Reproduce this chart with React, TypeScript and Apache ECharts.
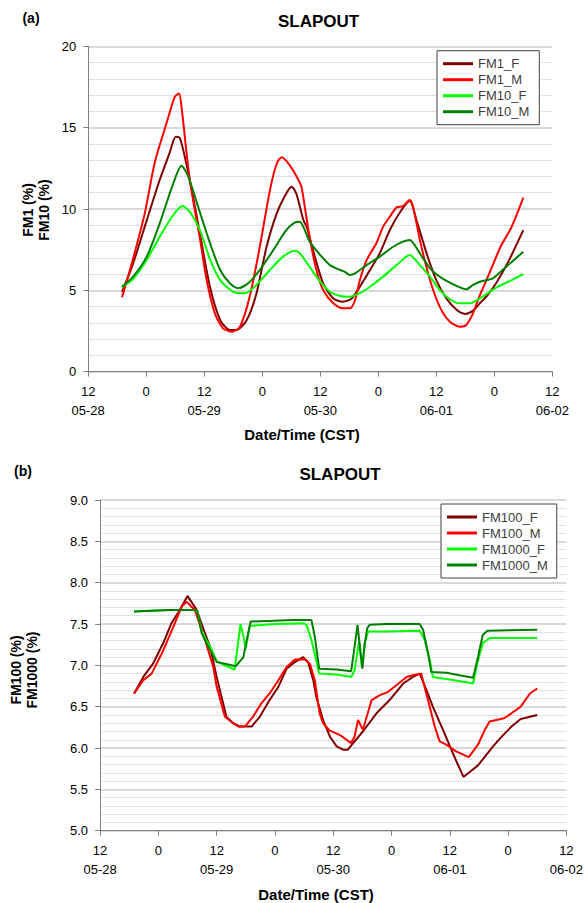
import React, { useEffect, useRef } from "react";
import * as echarts from "echarts";

// x values are hours after 05-28 12:00 (CST)
const xTickLabels = ["12\n05-28", "0", "12\n05-29", "0", "12\n05-30", "0", "12\n06-01", "0", "12\n06-02"];

const fm1F: number[][] = [
  [7, 4.9], [9.3, 6.66], [12.1, 9.3], [14.8, 11.8], [16.9, 13.5], [18.1, 14.45], [19.0, 14.35], [21, 11.8],
  [23.1, 8.5], [25.2, 5.2], [27.3, 3.17], [29.3, 2.56], [30.7, 2.56], [32.8, 3.17], [34.8, 4.8], [36.9, 7.68],
  [39.0, 9.73], [41.0, 10.97], [42.1, 11.37], [43.1, 10.9], [44.5, 9.32], [45.2, 8.9], [46.5, 7.48], [48.6, 5.43],
  [50.7, 4.5], [52.7, 4.3], [54.5, 4.5], [56.2, 5.22], [58.3, 6.25], [60.3, 7.27], [62.4, 8.71], [64.5, 9.8],
  [66.5, 10.5], [67.9, 9.32], [70.0, 7.27], [72.0, 5.63], [74.1, 4.5], [76.2, 3.8], [78.0, 3.55], [79.6, 3.75],
  [81.0, 4.2], [82.6, 4.7], [84.5, 5.5], [86.8, 6.7], [90, 8.7],
];
const fm1M: number[][] = [
  [7, 4.57], [9.4, 7.07], [11.7, 9.73], [13.8, 12.9], [16.2, 15.27], [17.9, 16.9], [18.8, 17.1], [19.3, 16.3],
  [21, 11.8], [23.1, 8.2], [24.5, 5.63], [26.2, 3.58], [27.9, 2.66], [29.7, 2.45], [31.4, 2.76], [33.4, 4.6],
  [35.5, 7.68], [37.6, 11.17], [39.0, 12.8], [40.0, 13.18], [41.4, 12.8], [43.1, 12.0], [44.1, 11.37], [44.8, 10.14],
  [45.9, 8.1], [47.2, 6.25], [48.6, 5.02], [50.7, 4.2], [52.7, 3.89], [54.1, 3.89], [55.2, 4.4], [56.2, 5.63],
  [57.6, 6.86], [59.6, 7.89], [61.0, 8.91], [62.4, 9.53], [63.8, 10.1], [65.1, 10.18], [66.5, 10.55], [67.2, 10.14],
  [68.6, 8.1], [70.7, 5.63], [72.7, 4.0], [74.8, 3.07], [76.9, 2.76], [78.2, 2.87], [79.6, 3.58], [80.6, 4.4],
  [83.0, 6.05], [85.3, 7.68], [87.6, 8.91], [90, 10.7],
];
const fm10F: number[][] = [
  [7, 5.2], [9.3, 5.7], [12.1, 6.86], [14.8, 8.3], [17.6, 9.63], [19.5, 10.18], [21.0, 9.84], [23.1, 8.71],
  [25.2, 6.9], [27.3, 5.63], [30.0, 4.91], [32.4, 4.82], [34.8, 5.33], [37.6, 6.25], [40.3, 7.07], [42.7, 7.44],
  [43.8, 7.27], [45.9, 6.4], [48.0, 5.53], [50.0, 4.91], [52.1, 4.65], [54.1, 4.6], [56.2, 4.82], [58.3, 5.22],
  [61.0, 5.84], [63.8, 6.55], [66.5, 7.17], [68.6, 6.55], [70.7, 5.84], [72.7, 5.02], [74.8, 4.45], [76.9, 4.2],
  [79.0, 4.2], [81.0, 4.5], [84.5, 5.18], [87.6, 5.63], [90, 6.0],
];
const fm10M: number[][] = [
  [7, 5.22], [9.3, 5.84], [12.1, 7.07], [14.8, 9.12], [17.6, 11.58], [19.3, 12.66], [20.7, 11.99], [23.1, 9.8],
  [25.2, 7.9], [27.3, 6.25], [29.3, 5.43], [31.0, 5.12], [33.1, 5.43], [35.5, 6.25], [38.3, 7.48], [41.0, 8.71],
  [42.7, 9.16], [43.8, 9.22], [44.5, 8.91], [45.9, 7.95], [48.0, 7.17], [50.0, 6.55], [52.1, 6.25], [53.1, 6.14],
  [54.1, 5.94], [55.2, 6.04], [57.6, 6.55], [60.3, 7.07], [63.1, 7.68], [65.1, 7.99], [66.5, 8.1], [68.6, 7.27],
  [70.7, 6.35], [72.7, 5.84], [74.8, 5.47], [76.9, 5.18], [78.2, 5.06], [79.6, 5.33], [81.0, 5.53], [83.7, 5.74],
  [86.1, 6.35], [90, 7.37],
];

const fm100F: number[][] = [
  [7, 6.66], [8.9, 6.86], [10.9, 7.02], [13.0, 7.27], [14.7, 7.51], [16.4, 7.67], [18.0, 7.84], [19.9, 7.67],
  [21.2, 7.45], [22.6, 7.23], [24.0, 6.86], [25.0, 6.62], [26.0, 6.38], [27.4, 6.3], [28.8, 6.26], [31.2, 6.26],
  [32.9, 6.38], [34.9, 6.58], [36.7, 6.74], [38.4, 6.96], [40.1, 7.04], [41.8, 7.1], [42.8, 7.04], [43.9, 6.82],
  [44.5, 6.62], [45.9, 6.34], [47.3, 6.14], [48.7, 6.02], [50.0, 5.98], [51.0, 5.98], [52.1, 6.06], [54.1, 6.2],
  [56.9, 6.42], [59.6, 6.58], [62.4, 6.78], [64.4, 6.86], [65.8, 6.9], [67.2, 6.7], [68.5, 6.5], [70.6, 6.22],
  [72.6, 5.94], [74.8, 5.65], [76.1, 5.71], [77.8, 5.79], [80.9, 6.02], [82.4, 6.12], [84.7, 6.26], [86.6, 6.35],
  [90, 6.4],
];
const fm100M: number[][] = [
  [7, 6.66], [8.9, 6.82], [10.6, 6.9], [13.0, 7.18], [15.4, 7.51], [16.8, 7.71], [17.8, 7.77], [19.5, 7.67],
  [21.6, 7.31], [23.3, 6.98], [24.0, 6.74], [25.7, 6.38], [27.4, 6.3], [28.4, 6.26], [29.8, 6.26], [31.5, 6.38],
  [33.2, 6.54], [34.9, 6.66], [36.7, 6.82], [38.4, 6.98], [40.1, 7.07], [42.1, 7.07], [43.2, 7.02], [44.2, 6.82],
  [45.2, 6.42], [45.9, 6.3], [47.3, 6.21], [49.3, 6.16], [51.7, 6.06], [52.4, 6.14], [53.1, 6.34], [54.1, 6.22],
  [55.9, 6.58], [57.6, 6.64], [59.3, 6.68], [61.0, 6.76], [63.1, 6.86], [64.4, 6.88], [66.1, 6.9], [67.5, 6.58],
  [68.9, 6.26], [69.9, 6.08], [71.3, 6.04], [73.3, 5.96], [75.9, 5.89], [77.8, 6.04], [79.2, 6.22], [80.2, 6.32],
  [83.2, 6.36], [84.7, 6.42], [86.6, 6.5], [88.5, 6.66], [90, 6.72],
];
const fm1000F: number[][] = [
  [7, 7.65], [10.3, 7.66], [14.4, 7.67], [19.2, 7.67], [20.0, 7.66], [20.9, 7.42], [21.9, 7.3], [22.9, 7.2],
  [24.0, 7.05], [25.7, 7.0], [27.7, 6.95], [28.9, 7.5], [29.5, 7.35], [30.0, 7.2], [30.8, 7.48], [31.5, 7.48],
  [36.3, 7.5], [41.8, 7.51], [42.5, 7.49], [43.5, 7.31], [44.5, 7.06], [45.1, 6.9], [48.7, 6.89], [51.7, 6.86],
  [52.4, 6.94], [53.3, 7.29], [53.9, 6.98], [54.5, 7.27], [55.2, 7.41], [58.6, 7.41], [65.8, 7.42], [66.8, 7.31],
  [67.9, 7.06], [68.5, 6.86], [72.0, 6.83], [76.8, 6.78], [77.8, 7.06], [78.8, 7.27], [80.2, 7.33], [90, 7.33],
];
const fm1000M: number[][] = [
  [7, 7.65], [10.3, 7.66], [14.4, 7.67], [19.2, 7.67], [20.0, 7.66], [20.9, 7.39], [21.9, 7.27], [22.9, 7.16],
  [24.0, 7.04], [25.7, 7.02], [27.95, 6.99], [29.5, 7.1], [30.2, 7.31], [31.0, 7.53], [35.6, 7.54], [39.7, 7.55],
  [43.5, 7.55], [44.2, 7.35], [45.1, 6.96], [48.7, 6.95], [51.7, 6.93], [53.0, 7.49], [53.5, 7.22], [54.0, 6.96],
  [54.5, 7.27], [55.0, 7.45], [55.5, 7.49], [58.9, 7.5], [65.8, 7.5], [66.5, 7.43], [67.5, 7.15], [68.2, 6.92],
  [71.3, 6.91], [74.0, 6.88], [76.8, 6.85], [77.8, 7.1], [78.8, 7.37], [79.8, 7.42], [90, 7.43],
];

const FONT = "'Liberation Sans', Arial, sans-serif";
const C_DARKRED = "#800000";
const C_RED = "#ff0000";
const C_LIME = "#00ff00";
const C_GREEN = "#008000";

function xAxis(gridIndex: number) {
  return {
    type: "value",
    gridIndex,
    min: 0,
    max: 96,
    interval: 12,
    axisLine: { show: true, onZero: false, lineStyle: { color: "#808080", width: 1 } },
    axisTick: { show: true, length: 5, lineStyle: { color: "#808080" } },
    splitLine: { show: false },
    axisLabel: {
      formatter: (v: number) => xTickLabels[Math.round(v / 12)] ?? "",
      fontSize: 13,
      color: "#000",
      fontFamily: FONT,
      lineHeight: 19,
      margin: 10,
      showMinLabel: true,
      showMaxLabel: true,
      hideOverlap: false,
    },
  };
}

function yAxis(gridIndex: number, min: number, max: number, interval: number, decimals: number) {
  return {
    type: "value",
    gridIndex,
    min,
    max,
    interval,
    axisLine: { show: true, onZero: false, lineStyle: { color: "#808080", width: 1 } },
    axisTick: { show: true, length: 5, lineStyle: { color: "#808080" } },
    axisLabel: {
      fontSize: 13,
      color: "#000",
      fontFamily: FONT,
      margin: 12,
      formatter: (v: number) => v.toFixed(decimals),
    },
    splitLine: { show: true, lineStyle: { color: "#cccccc", width: 1.5 } },
    minorTick: { show: false, splitNumber: 5 },
    minorSplitLine: { show: true, lineStyle: { color: "#c4c4c4", type: "dotted", width: 1 } },
  };
}

function line(name: string, data: number[][], color: string, idx: number, smooth: number | boolean) {
  return {
    name,
    type: "line",
    xAxisIndex: idx,
    yAxisIndex: idx,
    data,
    smooth,
    symbol: "none",
    showSymbol: false,
    lineStyle: { color, width: 2 },
    itemStyle: { color },
  };
}

function legend(names: string[], left: number, top: number, padding: number[], lineHeight: number) {
  return {
    data: names,
    left,
    top,
    orient: "vertical",
    icon: "rect",
    itemWidth: 30,
    itemHeight: 3,
    itemGap: 0,
    selectedMode: false,
    borderColor: "#404040",
    borderWidth: 1,
    borderRadius: 0,
    backgroundColor: "#ffffff",
    padding,
    textStyle: { fontSize: 13, color: "#404040", fontFamily: FONT, lineHeight },
  };
}

function txt(text: string, x: number, y: number, size: number, extra: any = {}) {
  return {
    type: "text",
    x,
    y,
    ...extra,
    style: {
      text,
      fontSize: size,
      fontWeight: "bold",
      fontFamily: FONT,
      fill: "#000",
      align: "center",
      verticalAlign: "middle",
      lineHeight: extra.lineHeight ?? size + 2,
    },
  };
}

export default function App() {
  const ref = useRef<HTMLDivElement>(null);
  useEffect(() => {
    const chart = echarts.init(ref.current!, null, { renderer: "svg" });
    chart.setOption({
      animation: false,
      backgroundColor: "#ffffff",
      grid: [
        { left: 88.2, top: 46.4, width: 464.1, height: 325.2, containLabel: false },
        { left: 100.1, top: 500, width: 466.8, height: 330.7, containLabel: false },
      ],
      xAxis: [xAxis(0), xAxis(1)],
      yAxis: [yAxis(0, 0, 20, 5, 0), yAxis(1, 5, 9, 0.5, 1)],
      legend: [
        legend(["FM1_F", "FM1_M", "FM10_F", "FM10_M"], 437, 50.7, [5, 10, 5, 6], 16),
        legend(["FM100_F", "FM100_M", "FM1000_F", "FM1000_M"], 441, 504, [5, 9, 5, 6], 16),
      ],
      series: [
        line("FM1_F", fm1F, C_DARKRED, 0, 0.25),
        line("FM1_M", fm1M, C_RED, 0, 0.25),
        line("FM10_F", fm10F, C_LIME, 0, 0.25),
        line("FM10_M", fm10M, C_GREEN, 0, 0.25),
        line("FM100_F", fm100F, C_DARKRED, 1, false),
        line("FM100_M", fm100M, C_RED, 1, false),
        line("FM1000_F", fm1000F, C_LIME, 1, false),
        line("FM1000_M", fm1000M, C_GREEN, 1, false),
      ],
      graphic: [
        txt("(a)", 31, 18, 14),
        txt("SLAPOUT", 318.6, 21, 17),
        { ...txt("FM1 (%)\nFM10 (%)", 35.5, 210, 14, { rotation: Math.PI / 2 }), },
        txt("Date/Time (CST)", 302, 434, 15),
        txt("(b)", 23, 471, 14),
        txt("SLAPOUT", 340, 474, 17),
        { ...txt("FM100 (%)\nFM1000 (%)", 24.3, 670, 14, { rotation: Math.PI / 2 }), },
        txt("Date/Time (CST)", 316, 894, 15),
      ],
    });
    return () => chart.dispose();
  }, []);
  return (
    <div
      ref={ref}
      style={{ position: "absolute", left: 0, top: 0, width: 586, height: 903, background: "#fff" }}
    />
  );
}
